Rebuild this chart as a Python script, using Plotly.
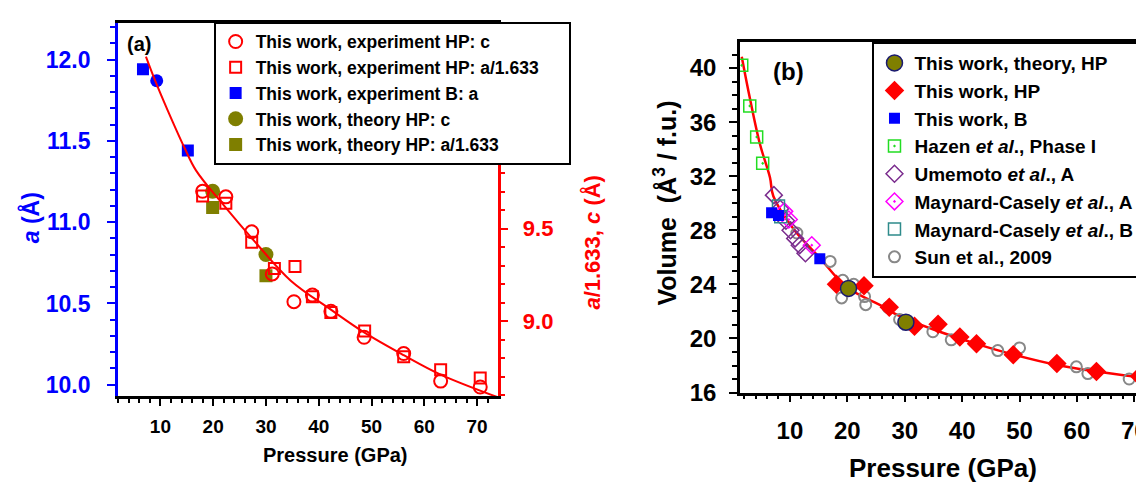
import plotly.graph_objects as go

# ---------------- Panel (a) data ----------------
fit_a_p = [7.26, 8.87, 11.38, 14.54, 16.74, 22.1, 28.4, 34.7, 42.3, 48.6, 56.1, 63.1, 73.8]
fit_a_v = [10.430, 10.31, 10.14, 9.939, 9.815, 9.623, 9.413, 9.219, 9.062, 8.939, 8.816, 8.711, 8.590]

exp_hp_c_p = [18.0, 22.4, 27.3, 31.2, 35.3, 38.8, 42.3, 48.6, 56.1, 63.1, 70.6]
exp_hp_c_v = [9.702, 9.672, 9.483, 9.255, 9.105, 9.141, 9.053, 8.913, 8.825, 8.676, 8.644]

exp_hp_a_p = [18.0, 22.4, 27.3, 31.6, 35.5, 38.8, 42.3, 48.7, 56.1, 63.1, 70.6]
exp_hp_a_v = [9.676, 9.637, 9.426, 9.284, 9.295, 9.132, 9.047, 8.947, 8.807, 8.737, 8.693]

exp_b_a_p = [6.7, 15.2]
exp_b_a_v = [11.94, 11.44]

exp_b_extra_p = [9.3]
exp_b_extra_v = [11.87]

th_hp_c_p = [19.9, 30.0]
th_hp_c_v = [9.702, 9.36]

th_hp_a_p = [19.9, 30.0]
th_hp_a_v = [9.614, 9.246]

# ---------------- Panel (b) data ----------------
fit_b_p = [1.6, 3.04, 4.78, 6.52, 7.11, 10.59, 15.2, 19.86, 26.2, 28.0, 34.9, 42.5, 48.9, 56.5, 63.4, 72.1]
fit_b_v = [40.84, 37.72, 34.36, 31.9, 30.52, 28.12, 25.96, 23.8, 22.36, 21.9, 20.68, 19.6, 18.81, 18.04, 17.56, 17.08]

th_hp_p = [20.2, 30.2]
th_hp_v = [23.7, 21.2]

hp_p = [18.1, 22.9, 27.3, 31.7, 35.8, 39.6, 42.5, 48.9, 56.5, 63.4, 70.9]
hp_v = [24.0, 23.9, 22.3, 20.9, 21.05, 20.1, 19.6, 18.8, 18.15, 17.55, 17.2]

b_p = [6.8, 8.0, 15.2]
b_v = [29.3, 29.1, 25.9]

hazen_p = [1.6, 3.0, 4.2, 5.25]
hazen_v = [40.2, 37.2, 34.9, 32.95]

umemoto_p = [7.2, 8.3, 9.3, 10.1, 10.9, 11.7, 12.7]
umemoto_v = [30.6, 29.6, 28.7, 28.0, 27.4, 26.9, 26.3]

mc_a_p = [9.0, 9.8, 13.8]
mc_a_v = [29.4, 28.8, 26.9]

mc_b_p = [8.0, 8.4]
mc_b_v = [29.8, 29.0]

sun_p = [11.2, 17.0, 19.2, 19.0, 21.1, 23.0, 23.2, 27.1, 29.1, 34.9, 38.1, 46.2, 50.0, 59.9, 61.9, 69.1]
sun_v = [27.8, 25.7, 24.3, 23.0, 24.0, 23.1, 22.5, 22.3, 21.4, 20.5, 19.9, 19.1, 19.3, 17.9, 17.4, 17.0]

FONT = "Arial, Liberation Sans, sans-serif"
RED = "#ff0000"
BLUE = "#0000ff"
OLIVE = "#7f7f00"
PAD = "\u00a0" * 5

fig = go.Figure()

# ----- panel (a) traces -----
fig.add_trace(go.Scatter(x=th_hp_c_p, y=th_hp_c_v, xaxis="x", yaxis="y2", mode="markers",
                         name="This work, theory HP: c", legend="legend", legendrank=4,
                         marker=dict(symbol="circle", size=15, color=OLIVE)))
fig.add_trace(go.Scatter(x=th_hp_a_p, y=th_hp_a_v, xaxis="x", yaxis="y2", mode="markers",
                         name="This work, theory HP: a/1.633", legend="legend", legendrank=5,
                         marker=dict(symbol="square", size=13, color=OLIVE)))
fig.add_trace(go.Scatter(x=exp_b_a_p, y=exp_b_a_v, xaxis="x", yaxis="y", mode="markers",
                         name="This work, experiment B: a", legend="legend", legendrank=3,
                         marker=dict(symbol="square", size=12, color=BLUE)))
fig.add_trace(go.Scatter(x=exp_b_extra_p, y=exp_b_extra_v, xaxis="x", yaxis="y", mode="markers",
                         showlegend=False,
                         marker=dict(symbol="circle", size=13, color=BLUE)))
fig.add_trace(go.Scatter(x=exp_hp_c_p, y=exp_hp_c_v, xaxis="x", yaxis="y2", mode="markers",
                         name="This work, experiment HP: c", legend="legend", legendrank=1,
                         marker=dict(symbol="circle-open", size=13, color=RED, line=dict(width=2))))
fig.add_trace(go.Scatter(x=exp_hp_a_p, y=exp_hp_a_v, xaxis="x", yaxis="y2", mode="markers",
                         name="This work, experiment HP: a/1.633" + PAD, legend="legend", legendrank=2,
                         marker=dict(symbol="square-open", size=11, color=RED, line=dict(width=2))))
fig.add_trace(go.Scatter(x=fit_a_p, y=fit_a_v, xaxis="x", yaxis="y2", mode="lines",
                         showlegend=False, line=dict(color=RED, width=2, shape="spline")))

# ----- panel (b) traces -----
fig.add_trace(go.Scatter(x=fit_b_p, y=fit_b_v, xaxis="x2", yaxis="y3", mode="lines",
                         showlegend=False, line=dict(color=RED, width=2.5, shape="spline")))
fig.add_trace(go.Scatter(x=sun_p, y=sun_v, xaxis="x2", yaxis="y3", mode="markers",
                         name="Sun et al., 2009", legend="legend2", legendrank=8, legendgroup="g8",
                         marker=dict(symbol="circle-open", size=11, color="#888888", line=dict(width=2))))
fig.add_trace(go.Scatter(x=umemoto_p, y=umemoto_v, xaxis="x2", yaxis="y3", mode="markers",
                         name="Umemoto <i>et al</i>., A", legend="legend2", legendrank=5, legendgroup="g5",
                         marker=dict(symbol="diamond-open", size=13, color="#7b2d8e", line=dict(width=1.5))))
fig.add_trace(go.Scatter(x=mc_a_p, y=mc_a_v, xaxis="x2", yaxis="y3", mode="markers",
                         name="Maynard-Casely <i>et al</i>., A", legend="legend2", legendrank=6, legendgroup="g6",
                         marker=dict(symbol="diamond-open-dot", size=13, color="#ff00ff", line=dict(width=1.5))))
fig.add_trace(go.Scatter(x=mc_b_p, y=mc_b_v, xaxis="x2", yaxis="y3", mode="markers",
                         name="Maynard-Casely <i>et al</i>., B", legend="legend2", legendrank=7, legendgroup="g7",
                         marker=dict(symbol="square-open", size=12, color="#2e8b8b", line=dict(width=1.5))))
fig.add_trace(go.Scatter(x=hazen_p, y=hazen_v, xaxis="x2", yaxis="y3", mode="markers",
                         name="Hazen <i>et al</i>., Phase I", legend="legend2", legendrank=4, legendgroup="g4",
                         marker=dict(symbol="square-open-dot", size=12, color="#22dd22", line=dict(width=1.5))))
fig.add_trace(go.Scatter(x=b_p, y=b_v, xaxis="x2", yaxis="y3", mode="markers",
                         name="This work, B", legend="legend2", legendrank=3, legendgroup="g3",
                         marker=dict(symbol="square", size=11, color=BLUE)))
fig.add_trace(go.Scatter(x=hp_p, y=hp_v, xaxis="x2", yaxis="y3", mode="markers",
                         name="This work, HP", legend="legend2", legendrank=2, legendgroup="g2",
                         marker=dict(symbol="diamond", size=15, color=RED)))
fig.add_trace(go.Scatter(x=th_hp_p, y=th_hp_v, xaxis="x2", yaxis="y3", mode="markers",
                         name="This work, theory, HP", legend="legend2", legendrank=1, legendgroup="g1",
                         marker=dict(symbol="circle", size=16, color=OLIVE, line=dict(width=1.5, color="#1a1a70"))))

W, H = 1144, 491
ax_a = [110 / W, 490.5 / W]
ay_a = [1 - 399 / H, 1 - 15 / H]
ax_b = [733.3 / W, 1140 / W]
ay_b = [1 - 395 / H, 1 - 35 / H]

tick_black = dict(family=FONT, size=19, color="black", weight="bold")

fig.update_layout(
    width=W, height=H,
    margin=dict(l=0, r=0, t=0, b=0),
    paper_bgcolor="white", plot_bgcolor="white",
    font=dict(family=FONT, color="black", weight="bold"),
    xaxis=dict(domain=ax_a, anchor="y", range=[1.93, 73.9], dtick=10, tick0=0,
               showgrid=False, zeroline=False, showline=True, linecolor="black", linewidth=2.5,
               mirror=True, ticks="outside", ticklen=7, tickwidth=2, tickcolor="black",
               minor=dict(dtick=2, ticks="outside", ticklen=4, tickwidth=1.5, tickcolor="black"),
               tickfont=tick_black, ticklabelstandoff=4),
    yaxis=dict(domain=ay_a, anchor="x", range=[9.928, 12.2275], dtick=0.5, tick0=10, tickformat=".1f",
               showgrid=False, zeroline=False, showline=True, linecolor=BLUE, linewidth=2.5,
               ticks="outside", ticklen=8, tickwidth=2, tickcolor=BLUE,
               minor=dict(dtick=0.1, ticks="outside", ticklen=5, tickwidth=1.5, tickcolor=BLUE),
               tickfont=dict(family=FONT, size=23, color=BLUE, weight="bold"), ticklabelstandoff=12),
    yaxis2=dict(overlaying="y", anchor="x", side="right", range=[8.593, 10.614], dtick=0.5, tick0=9,
                tickformat=".1f", showgrid=False, zeroline=False, showline=True, linecolor=RED, linewidth=2.5,
                ticks="outside", ticklen=8, tickwidth=2, tickcolor=RED,
                minor=dict(dtick=0.1, ticks="outside", ticklen=5, tickwidth=1.5, tickcolor=RED),
                tickfont=dict(family=FONT, size=22, color=RED, weight="bold"), ticklabelstandoff=10),
    xaxis2=dict(domain=ax_b, anchor="y3", range=[1.3, 72.03], dtick=10, tick0=0,
                showgrid=False, zeroline=False, showline=True, linecolor="black", linewidth=2.5,
                mirror=True, ticks="outside", ticklen=7, tickwidth=2, tickcolor="black",
                minor=dict(dtick=2, ticks="outside", ticklen=4, tickwidth=1.5, tickcolor="black"),
                tickfont=dict(family=FONT, size=24, color="black", weight="bold"), ticklabelstandoff=8),
    yaxis3=dict(domain=ay_b, anchor="x2", range=[16, 41.92], dtick=4, tick0=16,
                showgrid=False, zeroline=False, showline=True, linecolor="black", linewidth=2.5,
                mirror=True, ticks="outside", ticklen=8, tickwidth=2, tickcolor="black",
                minor=dict(dtick=1, ticks="outside", ticklen=5, tickwidth=1.5, tickcolor="black"),
                tickfont=dict(family=FONT, size=24, color="black", weight="bold"), ticklabelstandoff=8),
    legend=dict(x=206 / W, y=1 - 14 / H, xanchor="left", yanchor="top",
                bgcolor="white", bordercolor="black", borderwidth=2,
                font=dict(family=FONT, size=17.5, color="black", weight="bold"),
                itemsizing="trace"),
    legend2=dict(x=866 / W, y=1 - 35 / H, xanchor="left", yanchor="top",
                 bgcolor="white", bordercolor="black", borderwidth=2,
                 font=dict(family=FONT, size=19, color="black", weight="bold"),
                 tracegroupgap=0, itemsizing="trace"),
    showlegend=True,
)

ann = [
    dict(text="(a)", x=131, y=37, size=20, color="black", angle=0),
    dict(text="(b)", x=782, y=65, size=24, color="black", angle=0),
    dict(text="Pressure (GPa)", x=328, y=459, size=20, color="black", angle=0),
    dict(text="Pressure (GPa)", x=937, y=473, size=26, color="black", angle=0),
    dict(text="Volume  (Å<sup>3</sup> / f.u.)", x=658, y=200, size=25, color="black", angle=-90),
    dict(text="<i>a</i> (Å)", x=22, y=215, size=23, color=BLUE, angle=-90),
    dict(text="<i>a</i>/1.633, <i>c</i> (Å)", x=585, y=240, size=22, color=RED, angle=-90),
]
for a in ann:
    fig.add_annotation(text=a["text"], x=a["x"] / W, y=1 - a["y"] / H, xref="paper", yref="paper",
                       xanchor="center", yanchor="middle", showarrow=False, textangle=a["angle"],
                       font=dict(family=FONT, size=a["size"], color=a["color"], weight="bold"))

fig.write_html("out.html")
